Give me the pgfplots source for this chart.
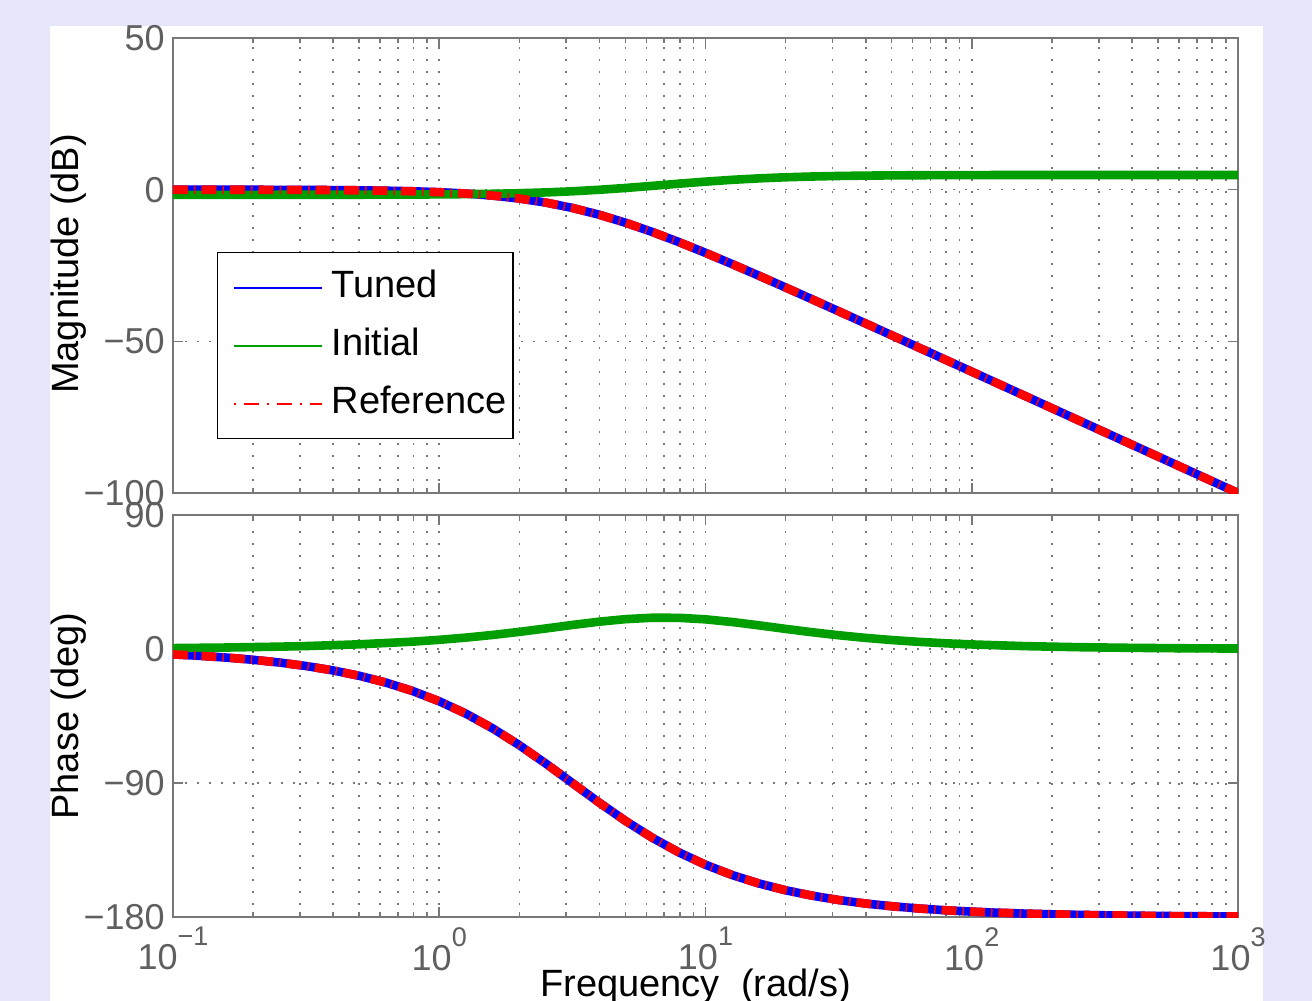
\documentclass[border=0pt]{standalone}
\usepackage{fontspec}
\setmainfont{Liberation Sans}
\usepackage{pgfplots}
\usepackage{pgfplotstable}
\pgfplotsset{compat=1.18}
\definecolor{bgl}{RGB}{230,230,250}
\definecolor{axg}{RGB}{120,120,120}
\definecolor{tkg}{RGB}{95,95,95}
\definecolor{mgreen}{RGB}{0,158,0}
\definecolor{mblue}{RGB}{0,0,255}
\definecolor{mred}{RGB}{255,0,0}

\pgfplotstableread{
w mag ph
0.1 -0.009 -3.62
0.1259 -0.014 -4.56
0.1585 -0.022 -5.74
0.1995 -0.035 -7.22
0.2512 -0.055 -9.08
0.3162 -0.086 -11.42
0.3981 -0.137 -14.35
0.5012 -0.216 -18.01
0.6310 -0.339 -22.56
0.7943 -0.532 -28.20
1 -0.828 -35.10
1.2589 -1.278 -43.40
1.5849 -1.947 -53.25
1.9953 -2.911 -64.50
2.5119 -4.249 -76.92
3.1623 -6.021 -90.00
3.9811 -8.249 -103.08
5.0119 -10.911 -115.50
6.3096 -13.946 -126.76
7.9433 -17.278 -136.59
10 -20.828 -144.90
12.589 -24.532 -151.80
15.849 -28.339 -157.44
19.953 -32.215 -162.00
25.119 -36.137 -165.65
31.623 -40.086 -168.58
39.811 -44.055 -170.92
50.119 -48.035 -172.78
63.096 -52.022 -174.26
79.433 -56.014 -175.44
100 -60.009 -176.38
125.89 -64.005 -177.12
158.49 -68.003 -177.71
199.53 -72.002 -178.18
251.19 -76.001 -178.56
316.23 -80.000 -178.85
398.11 -84.000 -179.09
501.19 -88.000 -179.28
630.96 -92.000 -179.43
794.33 -96.000 -179.54
1000 -100.000 -179.64
}\tuned

\pgfplotstableread{
w mag ph
0.1 -1.699 0.63
0.1585 -1.697 1.00
0.2512 -1.691 1.59
0.3162 -1.685 1.99
0.5012 -1.663 3.15
0.7943 -1.609 4.94
1 -1.557 6.17
1.2589 -1.477 7.66
1.5849 -1.354 9.44
1.9953 -1.171 11.50
2.5119 -0.904 13.79
3.1623 -0.533 16.16
3.9811 -0.042 18.35
5.0119 0.563 20.07
6.3096 1.251 21.00
7.9433 1.969 20.95
10 2.651 19.93
12.589 3.245 18.15
15.849 3.723 15.91
19.953 4.083 13.54
25.119 4.340 11.28
31.623 4.516 9.25
39.811 4.634 7.49
50.119 4.711 6.03
63.096 4.760 4.83
79.433 4.793 3.86
100 4.812 3.07
158.49 4.833 1.94
251.19 4.841 1.23
398.11 4.845 0.78
630.96 4.846 0.49
1000 4.847 0.31
}\initial

\newcommand{\tp}[1]{10\raisebox{12pt}{\fontsize{13.5}{13.5}\selectfont #1}}

\tikzset{
  tunedline/.style={mblue, line width=4.3pt, line join=round},
  initline/.style={mgreen, line width=4.3pt, line join=round},
  refline/.style={mred, line width=4.3pt, line cap=butt, dash pattern=on 7.5pt off 3pt on 0.75pt off 3pt},
  gridst/.style={axg, line width=0.8pt, dash pattern=on 0.8pt off 5.2pt},
}
\pgfplotsset{
  legend image code/.code={\path (0pt,0pt) -- (0pt,0pt); \draw[#1] (4.5pt,0pt) -- (48.5pt,0pt);},
}

\begin{document}
\begin{tikzpicture}
\useasboundingbox (0pt,0pt) rectangle (656pt,-500.5pt);
\clip (0pt,0pt) rectangle (656pt,-500.5pt);
\fill[bgl] (0pt,0pt) rectangle (656pt,-500.5pt);
\fill[white] (25pt,-12.85pt) rectangle (631.35pt,-500.5pt);

\begin{axis}[
  scale only axis, width=532.5pt, height=227.5pt,
  at={(86.5pt,-246.5pt)}, anchor=south west,
  xmode=log, xmin=0.1, xmax=1000, xtick={0.1,1,10,100,1000},
  axis line style={axg, line width=0.8pt},
  tick style={axg, line width=0.8pt},
  major tick length=5pt, minor tick length=2.5pt, tick align=inside,
  xmajorgrids=true, xminorgrids=true, ymajorgrids=true,
  major grid style={gridst}, minor grid style={gridst},
  tick label style={tkg, font=\fontsize{18}{18}\selectfont},
  yticklabel style={inner xsep=4pt},
  ymin=-100, ymax=50, ytick={-100,-50,0,50}, yticklabels={−100,−50,0,50},
  xticklabels={},
  legend style={at={(0.0413,0.5297)}, anchor=north west, draw=black, line width=0.75pt,
    fill=white, inner xsep=3pt, inner ysep=6.5pt, row sep=7pt, column sep=4.5pt,
    font=\fontsize{19}{20}\selectfont,
    nodes={inner xsep=0pt, inner ysep=2pt, text height=14pt, text depth=4pt}},
  legend cell align=left,
]
\addlegendimage{mblue, line width=1pt}
\addlegendentry{Tuned}
\addlegendimage{mgreen, line width=1pt}
\addlegendentry{Initial}
\addlegendimage{mred, line width=1pt, dash pattern=on 1pt off 4pt on 7.5pt off 4pt}
\addlegendentry{Reference}
\addplot[tunedline, forget plot] table[x=w, y=mag] {\tuned};
\addplot[initline, forget plot] table[x=w, y=mag] {\initial};
\addplot[refline, forget plot] table[x=w, y=mag] {\tuned};
\end{axis}

\begin{axis}[
  scale only axis, width=532.5pt, height=201pt,
  at={(86.5pt,-458.5pt)}, anchor=south west,
  xmode=log, xmin=0.1, xmax=1000, xtick={0.1,1,10,100,1000},
  axis line style={axg, line width=0.8pt},
  tick style={axg, line width=0.8pt},
  major tick length=5pt, minor tick length=2.5pt, tick align=inside,
  xmajorgrids=true, xminorgrids=true, ymajorgrids=true,
  major grid style={gridst}, minor grid style={gridst},
  tick label style={tkg, font=\fontsize{18}{18}\selectfont},
  yticklabel style={inner xsep=4pt},
  xticklabel style={inner ysep=5pt},
  ymin=-180, ymax=90, ytick={-180,-90,0,90}, yticklabels={−180,−90,0,90},
  xticklabels={\tp{−1},\tp{0},\tp{1},\tp{2},\tp{3}},
]
\addplot[tunedline] table[x=w, y=ph] {\tuned};
\addplot[initline] table[x=w, y=ph] {\initial};
\addplot[refline] table[x=w, y=ph] {\tuned};
\end{axis}

\node[rotate=90, anchor=base, inner sep=0pt, font=\fontsize{19}{20}\selectfont] at (39pt,-132pt) {Magnitude (dB)};
\node[rotate=90, anchor=base, inner sep=0pt, font=\fontsize{19}{20}\selectfont] at (39pt,-358pt) {Phase (deg)};
\node[anchor=north west, inner sep=0pt, font=\fontsize{19}{20}\selectfont] at (270pt,-484.5pt) {Frequency\ \ (rad/s)};
\end{tikzpicture}
\end{document}
